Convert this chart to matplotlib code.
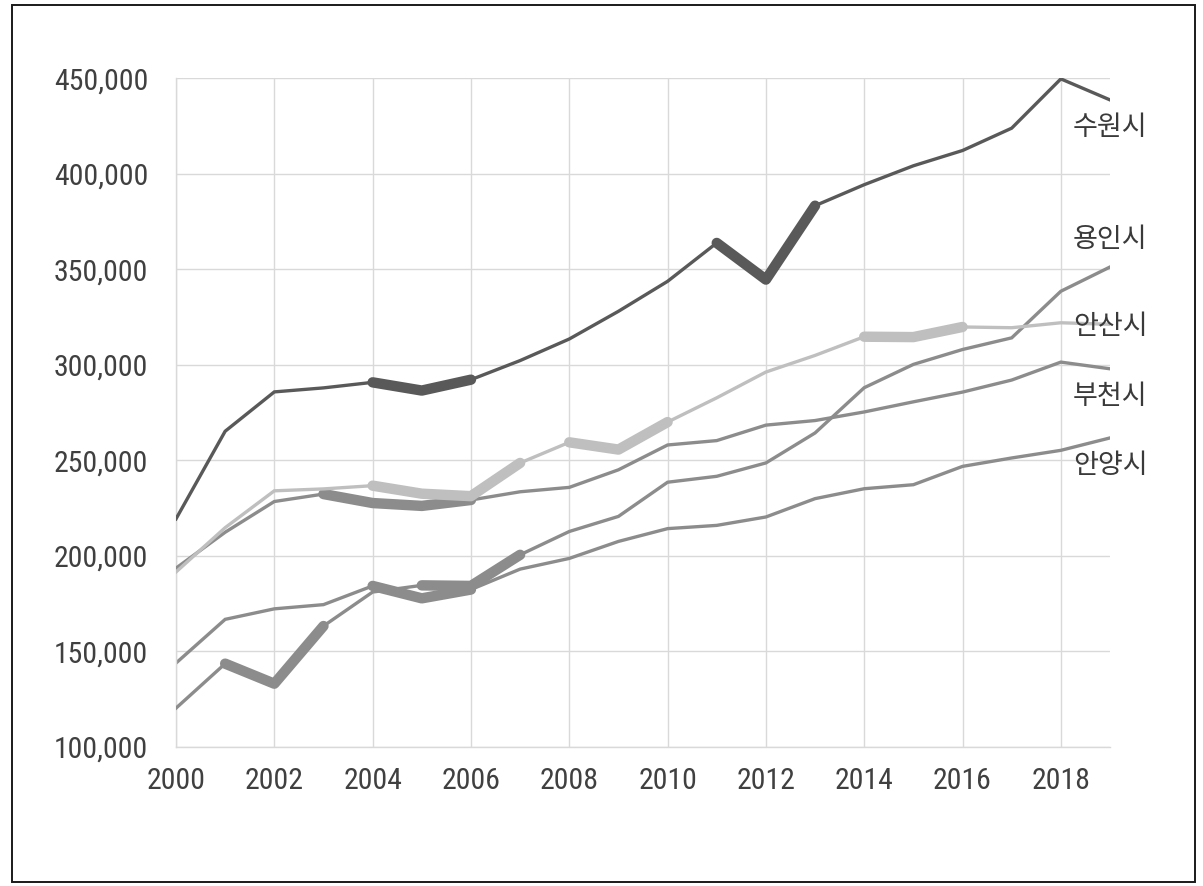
import matplotlib
matplotlib.use("Agg")
import matplotlib.pyplot as plt
from matplotlib.patches import Rectangle
from matplotlib.ticker import FuncFormatter, MultipleLocator

YEARS = list(range(2000, 2020))

# population, thousands
SUWON = [219.3, 265.2, 285.8, 287.9, 290.8, 286.5, 292.2, 302.2, 313.5, 328.0,
         343.7, 363.8, 344.6, 383.3, 394.3, 404.2, 412.2, 423.9, 449.7, 438.7]
YONGIN = [120.2, 143.5, 133.0, 163.2, 181.0, 184.5, 184.2, 200.5, 212.7, 220.6,
          238.5, 241.6, 248.6, 264.3, 288.0, 300.2, 308.0, 314.1, 338.5, 351.2]
ANSAN = [191.5, 214.7, 234.0, 235.0, 236.7, 232.5, 231.2, 248.6, 259.4, 255.6,
         270.0, 282.7, 296.2, 304.9, 314.7, 314.5, 319.8, 319.4, 322.0, 321.2]
BUCHEON = [193.5, 212.3, 228.4, 232.3, 227.6, 226.1, 229.2, 233.5, 235.8, 245.0,
           258.0, 260.3, 268.4, 270.8, 275.3, 280.6, 285.7, 292.0, 301.4, 297.9]
ANYANG = [143.8, 166.7, 172.2, 174.4, 184.2, 177.7, 182.3, 193.0, 198.6, 207.5,
          214.2, 215.9, 220.3, 229.9, 235.1, 237.2, 246.8, 251.2, 255.2, 261.7]

CITIES = ["수원시", "용인시", "안산시", "부천시", "안양시"]

# emphasised stretches (start year, end year)
SUWON_HL = [(2004, 2006), (2011, 2013)]
YONGIN_HL = [(2001, 2003), (2005, 2007)]
ANSAN_HL = [(2004, 2007), (2008, 2010), (2014, 2016)]
BUCHEON_HL = [(2003, 2006)]
ANYANG_HL = [(2004, 2006)]

# where the end labels sit (thousands)
LABEL_Y = [424.5, 365.4, 320.0, 283.3, 247.2]

COLORS = {
    "suwon": "#595959",
    "mid": "#8c8c8c",
    "ansan": "#bfbfbf",
    "grid": "#d9d9d9",
    "tick": "#404040",
    "frame": "#1a1a1a",
}

NUM_FONT = ["Roboto Condensed", "Liberation Sans Narrow", "Roboto", "DejaVu Sans"]
KR_FONT = ["Noto Sans CJK KR", "DejaVu Sans"]


def draw_city(ax, values, highlights, color, z):
    vals = [v * 1000 for v in values]
    ax.plot(YEARS, vals, color=color, lw=2.4, solid_joinstyle="miter", zorder=z)
    for y0, y1 in highlights:
        i0, i1 = YEARS.index(y0), YEARS.index(y1)
        ax.plot(YEARS[i0:i1 + 1], vals[i0:i1 + 1], color=color, lw=7.5,
                solid_capstyle="round", solid_joinstyle="round", zorder=z + 0.5)


def main():
    fig = plt.figure(figsize=(12.03, 8.86), dpi=100)
    fig.patch.set_facecolor("white")
    ax = fig.add_axes([0.1463, 0.1572, 0.9227 - 0.1463, 0.9116 - 0.1572])

    ax.set_xlim(2000, 2019)
    ax.set_ylim(100_000, 450_000)
    ax.xaxis.set_major_locator(MultipleLocator(2))
    ax.yaxis.set_major_locator(MultipleLocator(50_000))
    ax.yaxis.set_major_formatter(FuncFormatter(lambda v, _: f"{int(v):,}"))
    ax.grid(True, color=COLORS["grid"], lw=1.0)
    ax.set_axisbelow(True)
    for side in ("top", "right"):
        ax.spines[side].set_visible(False)
    for side in ("left", "bottom"):
        ax.spines[side].set_color(COLORS["grid"])
        ax.spines[side].set_linewidth(1.0)
    ax.tick_params(axis="both", length=0, colors=COLORS["tick"], labelsize=21.5)
    ax.tick_params(axis="x", pad=14.5)
    ax.tick_params(axis="y", pad=20)
    for lab in ax.get_xticklabels() + ax.get_yticklabels():
        lab.set_family(NUM_FONT)

    draw_city(ax, ANYANG, ANYANG_HL, COLORS["mid"], 2)
    draw_city(ax, YONGIN, YONGIN_HL, COLORS["mid"], 3)
    draw_city(ax, BUCHEON, BUCHEON_HL, COLORS["mid"], 4)
    draw_city(ax, ANSAN, ANSAN_HL, COLORS["ansan"], 5)
    draw_city(ax, SUWON, SUWON_HL, COLORS["suwon"], 6)

    for name, y in zip(CITIES, LABEL_Y):
        ax.text(2019, y * 1000, name, ha="center", va="center", fontsize=19.5,
                color="#3a3a3a", family=KR_FONT, fontweight="light",
                clip_on=False, zorder=10)

    fig.patches.append(Rectangle((0.0100, 0.0045), 0.9934 - 0.0100, 0.9944 - 0.0045,
                                 transform=fig.transFigure, fill=False,
                                 edgecolor=COLORS["frame"], lw=1.4))

    fig.savefig("out.png", dpi=100, facecolor="white")
    plt.close(fig)


if __name__ == "__main__":
    main()
